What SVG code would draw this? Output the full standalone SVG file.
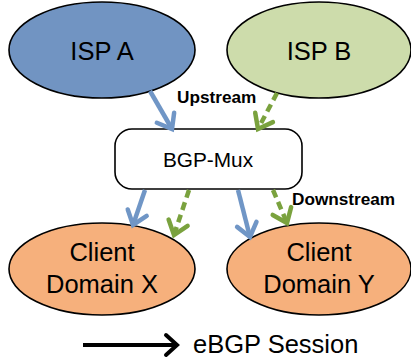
<svg xmlns="http://www.w3.org/2000/svg" width="411" height="362" viewBox="0 0 411 362">
<style>
.node{stroke:#000;stroke-width:1.6}
.lbl{font-family:"Liberation Sans",Arial,sans-serif;fill:#000;text-anchor:middle}
.big{font-size:25.5px}
.mid{font-size:20.8px}
.bold{font-family:"Liberation Sans",Arial,sans-serif;font-weight:bold;font-size:17.2px;fill:#000}
.blue{stroke:#7096c6;stroke-width:4.5;fill:none;marker-end:url(#hb)}
.green{stroke:#7aa23e;stroke-width:4.5;fill:none;stroke-dasharray:8,5;marker-end:url(#hg)}
</style>
<defs>
<marker id="hb" markerUnits="userSpaceOnUse" markerWidth="30" markerHeight="30" viewBox="-16 -15 20 30" refX="0" refY="0" orient="auto" overflow="visible">
<path d="M-13,-10 L0,0 L-13,10" fill="none" stroke="#7096c6" stroke-width="4.5" stroke-linecap="round"/>
</marker>
<marker id="hg" markerUnits="userSpaceOnUse" markerWidth="30" markerHeight="30" viewBox="-16 -15 20 30" refX="0" refY="0" orient="auto" overflow="visible">
<path d="M-13,-10 L0,0 L-13,10" fill="none" stroke="#7aa23e" stroke-width="4.5" stroke-linecap="round"/>
</marker>
<marker id="hk" markerUnits="userSpaceOnUse" markerWidth="30" markerHeight="30" viewBox="-16 -15 20 30" refX="0" refY="0" orient="auto" overflow="visible">
<path d="M-11,-10 L0,0 L-11,10" fill="none" stroke="#000" stroke-width="4" stroke-linecap="round"/>
</marker>
</defs>
<g id="ispA">
<ellipse class="node" cx="102" cy="50" rx="93" ry="48" fill="#7194c2"/>
<text class="lbl big" x="102" y="60">ISP A</text>
</g>
<g id="ispB">
<ellipse class="node" cx="319" cy="50" rx="92" ry="48" fill="#cddcab"/>
<text class="lbl big" x="319" y="60">ISP B</text>
</g>
<g id="mux">
<rect class="node" x="115" y="129" width="187" height="60" rx="17" fill="#fff"/>
<text class="lbl mid" x="208" y="167">BGP-Mux</text>
</g>
<g id="clientX">
<ellipse class="node" cx="102" cy="269" rx="93" ry="46" fill="#f6b07c"/>
<text class="lbl big" x="102" y="261">Client</text>
<text class="lbl big" x="102" y="293">Domain X</text>
</g>
<g id="clientY">
<ellipse class="node" cx="319" cy="269" rx="92" ry="46" fill="#f6b07c"/>
<text class="lbl big" x="319" y="261">Client</text>
<text class="lbl big" x="319" y="293">Domain Y</text>
</g>
<g id="connectors">
<line class="blue" x1="150" y1="91" x2="172" y2="129"/>
<line class="green" x1="277" y1="93" x2="258" y2="129"/>
<line class="blue" x1="145" y1="190" x2="133" y2="225"/>
<line class="green" x1="189" y1="190" x2="174" y2="235"/>
<line class="blue" x1="238" y1="190" x2="250" y2="237"/>
<line class="green" x1="273" y1="190" x2="287" y2="223"/>
<text class="bold" x="177" y="103">Upstream</text>
<text class="bold" x="292" y="205">Downstream</text>
</g>
<g id="legend">
<line x1="83" y1="345" x2="177" y2="345" stroke="#000" stroke-width="4" marker-end="url(#hk)"/>
<text class="lbl big" x="193" y="353" style="text-anchor:start">eBGP Session</text>
</g>
</svg>
